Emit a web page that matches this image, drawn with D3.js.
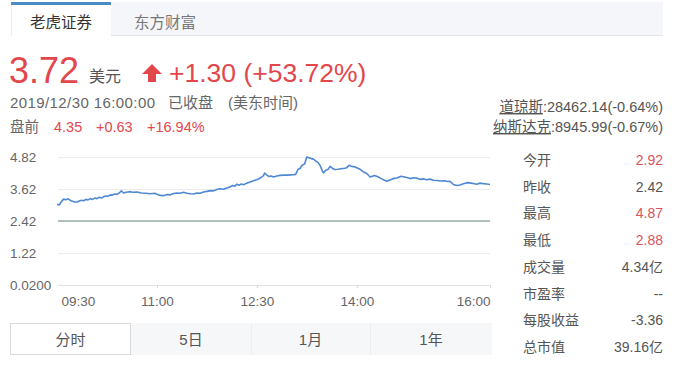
<!DOCTYPE html>
<html><head><meta charset="utf-8">
<script src="https://cdn.jsdelivr.net/npm/d3@7"></script>
<style>
body{margin:0;background:#fff;}
svg{font-family:"Liberation Sans","Noto Sans CJK SC",Arial,sans-serif;}
</style></head>
<body><svg id="c" width="700" height="370"></svg>
<script>
// ---- data ----
const times = ["09:30","09:32","09:34","09:36","09:38","09:40","09:42","09:44","09:46","09:48","09:50","09:52","09:54","09:56","09:58","10:00","10:02","10:04","10:06","10:08","10:10","10:12","10:14","10:16","10:18","10:20","10:22","10:24","10:26","10:28","10:30","10:32","10:34","10:36","10:38","10:42","10:46","10:50","10:54","10:58","11:00","11:03","11:06","11:09","11:12","11:15","11:18","11:21","11:24","11:27","11:30","11:33","11:36","11:39","11:42","11:45","11:48","11:51","11:54","11:57","12:00","12:03","12:06","12:08","12:10","12:12","12:14","12:16","12:18","12:21","12:24","12:27","12:30","12:33","12:36","12:37","12:39","12:41","12:43","12:45","12:48","12:51","12:54","12:57","13:00","13:03","13:05","13:07","13:09","13:11","13:13","13:15","13:17","13:19","13:21","13:23","13:25","13:27","13:29","13:30","13:32","13:34","13:36","13:38","13:40","13:43","13:46","13:49","13:51","13:53","13:55","13:58","14:00","14:03","14:06","14:09","14:12","14:14","14:16","14:19","14:22","14:25","14:27","14:30","14:33","14:36","14:40","14:43","14:46","14:48","14:51","14:54","14:57","15:00","15:03","15:06","15:09","15:12","15:16","15:19","15:22","15:24","15:26","15:27","15:30","15:33","15:36","15:40","15:43","15:46","15:48","15:51","15:54","15:57","16:00"];
const prices = [3.05,3.02,3.15,3.24,3.22,3.25,3.19,3.16,3.13,3.13,3.17,3.20,3.18,3.23,3.21,3.26,3.23,3.28,3.26,3.31,3.28,3.33,3.36,3.35,3.40,3.39,3.43,3.42,3.47,3.55,3.47,3.50,3.51,3.52,3.50,3.51,3.47,3.46,3.44,3.46,3.42,3.38,3.37,3.41,3.40,3.45,3.47,3.46,3.50,3.46,3.44,3.43,3.47,3.46,3.51,3.53,3.56,3.55,3.60,3.63,3.61,3.66,3.70,3.75,3.72,3.80,3.76,3.81,3.78,3.84,3.88,3.93,3.97,4.03,4.12,4.22,4.14,4.09,4.11,4.07,4.11,4.13,4.14,4.14,4.15,4.16,4.17,4.35,4.40,4.52,4.56,4.82,4.79,4.76,4.74,4.67,4.62,4.50,4.30,4.22,4.32,4.35,4.47,4.40,4.35,4.36,4.38,4.40,4.42,4.51,4.47,4.45,4.42,4.36,4.26,4.20,4.07,4.10,4.13,4.08,4.01,3.95,3.91,3.96,4.01,4.03,4.10,4.07,4.04,4.01,4.04,4.03,3.98,4.00,3.97,3.99,3.95,3.94,3.92,3.93,3.90,3.91,3.83,3.79,3.75,3.77,3.82,3.86,3.84,3.82,3.80,3.84,3.82,3.81,3.79];
const prevClose = 2.42;
const yTicks = [4.82, 3.62, 2.42, 1.22, 0.02];
const yTickLabels = ["4.82","3.62","2.42","1.22","0.0200"];
const xTicks = ["09:30","11:00","12:30","14:00","16:00"];
const statLabels = ["今开","昨收","最高","最低","成交量","市盈率","每股收益","总市值"];
const statValues = ["2.92","2.42","4.87","2.88","4.34亿","--","-3.36","39.16亿"];
const statRed = [true,false,true,true,false,false,false,false];
const tabs = ["老虎证券","东方财富"];
const periods = ["分时","5日","1月","1年"];

const svg = d3.select("#c");
const red = "#e2474c", gray = "#555", lgray = "#666";
const parse = d3.timeParse("%H:%M");

// ---- tabs ----
svg.append("rect").attr("x",11).attr("y",2).attr("width",652).attr("height",33).attr("fill","#f5f6fa");
svg.append("line").attr("x1",11).attr("x2",663).attr("y1",35.5).attr("y2",35.5).attr("stroke","#e3e5ea");
svg.append("rect").attr("x",11).attr("y",2).attr("width",100).attr("height",34).attr("fill","#fff");
svg.append("rect").attr("x",11).attr("y",2).attr("width",100).attr("height",3).attr("fill","#4a8bc6");
svg.append("line").attr("x1",11.5).attr("x2",11.5).attr("y1",5).attr("y2",36).attr("stroke","#ececf0");
svg.selectAll(".tab").data(tabs).join("text").attr("x",(d,i)=>i?165:61).attr("y",28)
  .attr("text-anchor","middle").attr("font-size",15.5).attr("fill",(d,i)=>i?"#777":"#333").text(d=>d);

// ---- header ----
svg.append("text").attr("x",9).attr("y",83).attr("font-size",36).attr("fill",red).text("3.72");
svg.append("text").attr("x",89).attr("y",82).attr("font-size",16).attr("fill",gray).text("美元");
svg.append("path").attr("d","M152,64 L162,74 L156,74 L156,82 L148,82 L148,74 L142,74 Z").attr("fill",red);
svg.append("text").attr("x",169).attr("y",82).attr("font-size",26.5).attr("fill",red).text("+1.30 (+53.72%)");
svg.append("text").attr("x",10).attr("y",108).attr("font-size",15).attr("fill",lgray).attr("textLength",145).text("2019/12/30 16:00:00");
svg.append("text").attr("x",168).attr("y",108).attr("font-size",15).attr("fill",lgray).text("已收盘");
svg.append("text").attr("x",228).attr("y",108).attr("font-size",15).attr("fill",lgray).text("(美东时间)");
svg.append("text").attr("x",10).attr("y",132).attr("font-size",14.5).attr("fill",lgray).text("盘前");
svg.append("text").attr("x",54).attr("y",132).attr("font-size",14.5).attr("fill",red).text("4.35");
svg.append("text").attr("x",96).attr("y",132).attr("font-size",14.5).attr("fill",red).text("+0.63");
svg.append("text").attr("x",147).attr("y",132).attr("font-size",14.5).attr("fill",red).text("+16.94%");

const idx = [["道琼斯",":28462.14(-0.64%)",112],["纳斯达克",":8945.99(-0.67%)",132]];
idx.forEach(([n,v,y])=>{
  const t = svg.append("text").attr("x",663).attr("y",y).attr("text-anchor","end").attr("font-size",14.5).attr("fill",gray);
  t.append("tspan").attr("text-decoration","underline").text(n);
  t.append("tspan").text(v);
});

// ---- chart ----
const x = d3.scaleTime().domain([parse("09:30"),parse("16:00")]).range([57,490]);
const y = d3.scaleLinear().domain([0.02,4.82]).range([285,157]);

const grid = svg.append("g").attr("transform","translate(58,0)")
  .call(d3.axisRight(y).tickValues(yTicks).tickSize(432).tickFormat(""));
grid.select(".domain").remove();
grid.selectAll(".tick line").attr("stroke",d=>d===0.02?"#e2e2e2":"#ededed");

svg.append("g").selectAll("text").data(yTicks).join("text")
  .attr("x",10).attr("y",d=>y(d)).attr("dy","0.35em").attr("font-size",13.5).attr("fill",lgray)
  .text((d,i)=>yTickLabels[i]);

svg.append("line").attr("x1",58).attr("x2",490).attr("y1",y(prevClose)).attr("y2",y(prevClose))
  .attr("stroke","#9aaba4").attr("stroke-width",1.6);

const xa = svg.append("g").attr("transform",`translate(0,${y(0.02)})`)
  .call(d3.axisBottom(x).tickValues(xTicks.map(parse)).tickSize(3).tickPadding(8).tickFormat(d3.timeFormat("%H:%M")));
xa.select(".domain").remove();
xa.selectAll(".tick line").attr("stroke","#d8d8d8");
xa.selectAll(".tick text").attr("font-size",13.5).attr("fill",lgray)
  .attr("text-anchor",(d,i)=>i===0?"start":(i===xTicks.length-1?"end":"middle"))
  .attr("dx",(d,i)=>i===0?4:0).attr("font-family","Liberation Sans, sans-serif");
xa.selectAll(".tick").filter((d,i)=>i===0).select("line").remove();

const pts = times.map((t,i)=>({t:parse(t),v:prices[i]}));
svg.append("path").datum(pts).attr("fill","none").attr("stroke","#4f89d4").attr("stroke-width",1.6)
  .attr("stroke-linejoin","round")
  .attr("d",d3.line().x(d=>x(d.t)).y(d=>y(d.v)));

// ---- stats ----
statLabels.forEach((l,i)=>{
  const yy = 165 + i*26.7;
  svg.append("text").attr("x",523).attr("y",yy).attr("font-size",14).attr("fill",gray).text(l);
  svg.append("text").attr("x",663).attr("y",yy).attr("text-anchor","end").attr("font-size",14)
    .attr("fill",statRed[i]?"#d9545c":gray).text(statValues[i]);
});

// ---- period buttons ----
const bx = [10,131,251,370,492];
svg.append("rect").attr("x",131).attr("y",323).attr("width",361).attr("height",32).attr("fill","#f6f7f9");
[251,370].forEach(v=>svg.append("line").attr("x1",v+0.5).attr("x2",v+0.5).attr("y1",323).attr("y2",355).attr("stroke","#eceef1"));
svg.append("rect").attr("x",10.5).attr("y",323.5).attr("width",120).attr("height",31).attr("fill","#fff").attr("stroke","#d9d9d9");
periods.forEach((p,i)=>{
  svg.append("text").attr("x",(bx[i]+bx[i+1])/2).attr("y",345).attr("text-anchor","middle")
    .attr("font-size",15).attr("fill",gray).text(p);
});
</script></body></html>
